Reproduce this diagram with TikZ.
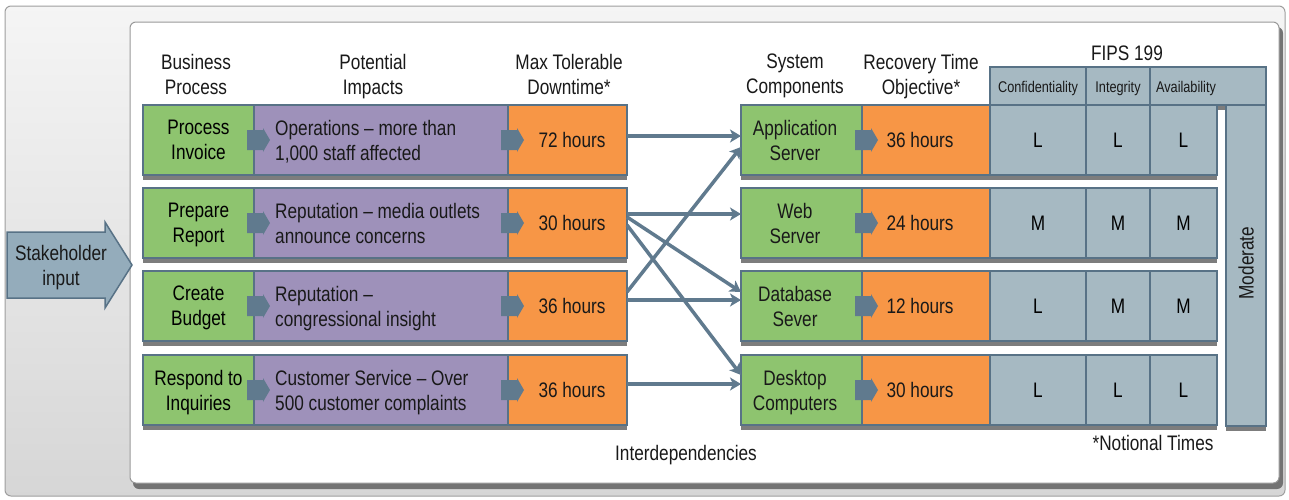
\documentclass[tikz,border=0pt]{standalone}
\usepackage{fontspec}
\setmainfont{Liberation Sans}[FakeStretch=0.82]
\usetikzlibrary{arrows.meta,calc}
\definecolor{gfill}{RGB}{142,196,111}
\definecolor{pfill}{RGB}{158,145,186}
\definecolor{ofill}{RGB}{247,150,70}
\definecolor{cfill}{RGB}{166,185,194}
\definecolor{bordc}{RGB}{88,114,134}
\definecolor{arrc}{RGB}{96,122,142}
\definecolor{shc}{RGB}{125,125,125}
\definecolor{skfill}{RGB}{148,172,187}
\newcommand\bigf{\fontsize{21}{25}\selectfont}
\newcommand\smallf{\fontsize{15.5}{18}\selectfont}
\begin{document}
\begin{tikzpicture}[x=1pt,y=-1pt,
 cellb/.style={draw=bordc, line width=2.2pt, inner sep=0pt, outer sep=0pt, minimum height=70pt, align=center, font=\bigf, text depth=0pt},
 gcell/.style={cellb, fill=gfill},
 pcell/.style={cellb, fill=pfill},
 ocell/.style={cellb, fill=ofill},
 ccell/.style={cellb, fill=cfill},
 txt/.style={font=\bigf, align=center, inner sep=0pt, text depth=0pt, text=black!90},
 stxt/.style={font=\smallf, align=center, inner sep=0pt, text depth=0pt, text=black!90},
 conn/.style={draw=arrc, line width=3.5pt, -{Stealth[length=11pt,width=13pt,inset=3pt]}},
 barrow/.pic={\fill[arrc] (-7,-10) -- (9,-10) -- (9,-12) -- (16,0) -- (9,12) -- (9,10) -- (-7,10) -- cycle;}
]
\useasboundingbox (0,0) rectangle (1289,499);
% outer frame
\shade[top color=black!4, bottom color=black!16, draw=black!38, line width=1pt, rounded corners=6pt] (5,6) rectangle (1285,496);
% inner panel
\fill[black!55, rounded corners=6pt] (133,27) rectangle (1283,489);
\filldraw[fill=white, draw=black!40, line width=1pt, rounded corners=6pt] (130,22) rectangle (1279,483);
% stakeholder arrow
\filldraw[fill=skfill, draw=bordc, line width=1.5pt] (7,232) -- (105,232) -- (105,222) -- (132,265) -- (105,308) -- (105,298) -- (7,298) -- cycle;
\node[txt] (stake) at (61,265) {Stakeholder\\input};
% headers
\node[txt] (h1) at (196,74) {Business\\Process};
\node[txt] (h2) at (373,74) {Potential\\Impacts};
\node[txt] (h3) at (569,74) {Max Tolerable\\Downtime*};
\node[txt] (h4) at (795,74) {System\\Components};
\node[txt] (h5) at (921,74) {Recovery Time\\Objective*};
\node[txt] (h6) at (1127,53) {FIPS 199};
% row shadows
\foreach \t in {105,188,271,355} {
  \fill[shc] (143,\t+5) rectangle (627,\t+75);
  \fill[shc] (741,\t+5) rectangle (1217,\t+75);
}
\fill[shc] (990,72) rectangle (1266,110);
\fill[shc] (1226,110) rectangle (1266,431);
% FIPS header
\node[ccell, minimum height=38pt, minimum width=276pt] (fh) at (1128,86) {};
\node[ccell, minimum height=38pt, minimum width=96pt] (fc) at (1038,86) {};
\node[ccell, minimum height=38pt, minimum width=64pt] (fi) at (1118,86) {};
\node[stxt] (fct) at (1038,87) {Confidentiality};
\node[stxt] (fit) at (1118,87) {Integrity};
\node[stxt] (fat) at (1186,87) {Availability};
% moderate bar
\node[ccell, minimum height=321pt, minimum width=40pt] (mod) at (1246,265.5) {};
\node[txt, rotate=90] (modt) at (1246,263) {Moderate};
% left rows
\node[gcell, minimum width=111pt] (g1) at (198.5,140) {Process\\Invoice};
\node[pcell, minimum width=254pt] (p1) at (381,140) {};
\node[ocell, minimum width=119pt] (o1) at (567.5,140) {};
\node[gcell, minimum width=111pt] (g2) at (198.5,223) {Prepare\\Report};
\node[pcell, minimum width=254pt] (p2) at (381,223) {};
\node[ocell, minimum width=119pt] (o2) at (567.5,223) {};
\node[gcell, minimum width=111pt] (g3) at (198.5,306) {Create\\Budget};
\node[pcell, minimum width=254pt] (p3) at (381,306) {};
\node[ocell, minimum width=119pt] (o3) at (567.5,306) {};
\node[gcell, minimum width=111pt] (g4) at (198.5,390) {Respond to\\Inquiries};
\node[pcell, minimum width=254pt] (p4) at (381,390) {};
\node[ocell, minimum width=119pt] (o4) at (567.5,390) {};
\node[txt, anchor=west, align=left] (p1t) at ([xshift=21pt]p1.west) {Operations – more than\\1,000 staff affected};
\node[txt, anchor=west, align=left] (p2t) at ([xshift=21pt]p2.west) {Reputation – media outlets\\announce concerns};
\node[txt, anchor=west, align=left] (p3t) at ([xshift=21pt]p3.west) {Reputation –\\congressional insight};
\node[txt, anchor=west, align=left] (p4t) at ([xshift=21pt]p4.west) {Customer Service – Over\\500 customer complaints};
\node[txt] (o1t) at (572,140) {72 hours};
\node[txt] (o2t) at (572,223) {30 hours};
\node[txt] (o3t) at (572,306) {36 hours};
\node[txt] (o4t) at (572,390) {36 hours};
% right rows
\node[gcell, minimum width=121pt] (s1) at (801.5,140) {};
\node[ocell, minimum width=128pt] (r1) at (926,140) {};
\node[ccell, minimum width=96pt] (c1) at (1038,140) {L};
\node[ccell, minimum width=64pt] (i1) at (1118,140) {L};
\node[ccell, minimum width=67pt] (a1) at (1183.5,140) {L};
\node[gcell, minimum width=121pt] (s2) at (801.5,223) {};
\node[ocell, minimum width=128pt] (r2) at (926,223) {};
\node[ccell, minimum width=96pt] (c2) at (1038,223) {M};
\node[ccell, minimum width=64pt] (i2) at (1118,223) {M};
\node[ccell, minimum width=67pt] (a2) at (1183.5,223) {M};
\node[gcell, minimum width=121pt] (s3) at (801.5,306) {};
\node[ocell, minimum width=128pt] (r3) at (926,306) {};
\node[ccell, minimum width=96pt] (c3) at (1038,306) {L};
\node[ccell, minimum width=64pt] (i3) at (1118,306) {M};
\node[ccell, minimum width=67pt] (a3) at (1183.5,306) {M};
\node[gcell, minimum width=121pt] (s4) at (801.5,390) {};
\node[ocell, minimum width=128pt] (r4) at (926,390) {};
\node[ccell, minimum width=96pt] (c4) at (1038,390) {L};
\node[ccell, minimum width=64pt] (i4) at (1118,390) {L};
\node[ccell, minimum width=67pt] (a4) at (1183.5,390) {L};
\node[txt] (s1t) at (795,140) {Application\\Server};
\node[txt] (s2t) at (795,223) {Web\\Server};
\node[txt] (s3t) at (795,306) {Database\\Sever};
\node[txt] (s4t) at (795,390) {Desktop\\Computers};
\node[txt] (r1t) at (920,140) {36 hours};
\node[txt] (r2t) at (920,223) {24 hours};
\node[txt] (r3t) at (920,306) {12 hours};
\node[txt] (r4t) at (920,390) {30 hours};
% block arrows
\foreach \n in {g1,g2,g3,g4,p1,p2,p3,p4,s1,s2,s3,s4} {\pic at (\n.east) {barrow};}
% connectors
\draw[conn] ([yshift=14pt]o3.east) -- ([yshift=-7pt]s1.west);
\draw[conn] ([yshift=6pt]o2.east) -- ([yshift=14pt]s3.west);
\draw[conn] ([yshift=-2pt]o2.east) -- ([yshift=15pt]s4.west);
\draw[conn] ([yshift=4pt]o1.east) -- ([yshift=4pt]s1.west);
\draw[conn] ([yshift=9pt]o2.east) -- ([yshift=9pt]s2.west);
\draw[conn] ([yshift=6pt]o3.east) -- ([yshift=6pt]s3.west);
\draw[conn] ([yshift=6pt]o4.east) -- ([yshift=6pt]s4.west);
% notes
\node[txt] (inter) at (686,453) {Interdependencies};
\node[txt] (notional) at (1153,443) {*Notional Times};
\end{tikzpicture}
\end{document}
